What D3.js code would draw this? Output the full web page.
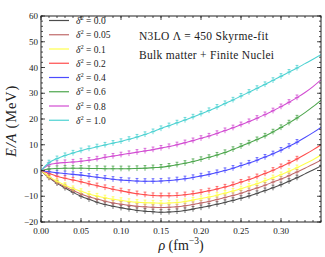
<!DOCTYPE html>
<html><head><meta charset="utf-8">
<script src="https://cdn.jsdelivr.net/npm/d3@7"></script>
<style>body{margin:0;background:#fff}svg{display:block}text{font-family:"Liberation Serif","DejaVu Serif",serif;fill:#222}</style>
</head><body>
<script>
// density grid (fm^-3), 0.00 .. 0.35 step 0.01
const rho = [0,0.01,0.02,0.03,0.04,0.05,0.06,0.07,0.08,0.09,0.10,0.11,0.12,0.13,0.14,0.15,0.16,0.17,0.18,0.19,0.20,0.21,0.22,0.23,0.24,0.25,0.26,0.27,0.28,0.29,0.30,0.31,0.32,0.33,0.34,0.35];
const labels = ["0.0","0.05","0.1","0.2","0.4","0.6","0.8","1.0"];
const colors = ["#4c4c4c","#c06a6a","#ffff4c","#ff4c4c","#4c4cff","#4ca64c","#d24cd2","#4cd2d2"];
const e00 = [0,-2.8,-5.0,-6.8,-8.5,-10.0,-11.2,-12.3,-13.2,-13.9,-14.5,-15.0,-15.5,-15.8,-16.0,-16.2,-16.1,-15.9,-15.5,-15.0,-14.4,-13.8,-13.1,-12.4,-11.6,-10.8,-9.9,-8.9,-7.8,-6.7,-5.5,-4.2,-2.8,-1.3,0.2,1.8];
const e005 = [0,-2.7,-4.7,-6.3,-7.8,-9.1,-10.2,-11.1,-11.9,-12.6,-13.1,-13.5,-13.9,-14.1,-14.3,-14.4,-14.3,-14.1,-13.7,-13.2,-12.6,-12.0,-11.3,-10.5,-9.7,-8.8,-7.8,-6.8,-5.7,-4.5,-3.3,-2.0,-0.6,0.9,2.4,4.0];
const e01 = [0,-2.4,-4.2,-5.7,-7.0,-8.1,-9.1,-9.9,-10.6,-11.2,-11.6,-12.0,-12.3,-12.5,-12.6,-12.7,-12.6,-12.4,-12.0,-11.5,-10.9,-10.3,-9.6,-8.8,-8.0,-7.1,-6.1,-5.1,-4.0,-2.8,-1.6,-0.3,1.1,2.6,4.2,6.0];
const e02 = [0,-1.2,-2.2,-3.0,-3.7,-4.4,-5.2,-5.9,-6.6,-7.3,-7.9,-8.5,-9.0,-9.4,-9.7,-9.8,-9.8,-9.7,-9.4,-9.0,-8.5,-7.9,-7.2,-6.4,-5.5,-4.5,-3.5,-2.4,-1.2,0.1,1.5,2.9,4.5,6.2,8.0,10.0];
const e04 = [0,-0.5,-0.9,-1.2,-1.5,-1.8,-2.2,-2.6,-3.0,-3.4,-3.7,-3.9,-4.1,-4.2,-4.2,-4.1,-3.9,-3.6,-3.2,-2.7,-2.1,-1.5,-0.8,0.0,0.9,1.9,2.9,4.0,5.2,6.5,7.9,9.4,11.0,12.8,14.7,16.8];
const e06 = [0,0.6,0.8,0.9,0.9,0.9,0.8,0.8,0.7,0.7,0.7,0.7,0.8,0.9,1.1,1.3,1.7,2.2,2.8,3.5,4.3,5.1,6.0,7.0,8.2,9.4,10.7,12.0,13.4,15.0,16.7,18.5,20.4,22.5,24.8,27.3];
const e08 = [0,2.2,2.8,3.1,3.3,3.6,4.0,4.5,5.1,5.6,6.1,6.6,7.1,7.6,8.1,8.7,9.3,10.0,10.8,11.6,12.5,13.4,14.4,15.5,16.6,17.8,19.0,20.3,21.7,23.2,24.8,26.5,28.3,30.3,32.6,35.2];
const e10 = [0,3.0,4.6,5.8,6.8,7.7,8.5,9.2,9.9,10.6,11.3,12.1,13.0,14.0,15.1,16.3,17.4,18.5,19.6,20.8,22.0,23.3,24.6,26.0,27.4,28.9,30.4,31.9,33.4,35.0,36.6,38.2,39.8,41.5,43.2,45.0];
const series = [e00,e005,e01,e02,e04,e06,e08,e10];
const xTicks = [0,0.05,0.10,0.15,0.20,0.25,0.30];
const yTicks = [-20,-10,0,10,20,30,40,50,60];
const markerMax = 0.32;

const W=325,H=257, L=41,R=321,T=16,B=222;
const svg=d3.select("body").append("svg").attr("width",W).attr("height",H);
const x=d3.scaleLinear().domain([0,0.35]).range([L,R]);
const y=d3.scaleLinear().domain([-20,60]).range([B,T]);

svg.append("clipPath").attr("id","c").append("rect").attr("x",L).attr("y",T).attr("width",R-L).attr("height",B-T);
const line=d3.line().x((d,i)=>x(rho[i])).y(d=>y(d)).curve(d3.curveMonotoneX);
const plot=svg.append("g").attr("clip-path","url(#c)");
series.forEach((s,k)=>{
  plot.append("path").attr("d",line(s)).attr("fill","none").attr("stroke",colors[k]).attr("stroke-width",1.05);
  const pts=s.map((v,i)=>[rho[i],v]).filter(p=>p[0]>0.005&&p[0]<=markerMax+1e-9);
  plot.selectAll(null).data(pts).enter().append("path")
    .attr("d",p=>{const cx=x(p[0]),cy=y(p[1]);return `M${cx-2.2},${cy}H${cx+2.2}M${cx},${cy-2.6}V${cy+2.6}M${cx-1.4},${cy-2.6}H${cx+1.4}`;})
    .attr("stroke",colors[k]).attr("stroke-width",0.8).attr("fill","none");
});

// axes: ticks inward on all sides
const xMinor=d3.range(0,0.351,0.01), yMinor=d3.range(-20,60.1,2);
const ax=svg.append("g").attr("stroke","#222").attr("stroke-width",0.8);
xMinor.forEach(v=>{const X=x(v);ax.append("line").attr("x1",X).attr("x2",X).attr("y1",B).attr("y2",B-2);ax.append("line").attr("x1",X).attr("x2",X).attr("y1",T).attr("y2",T+2);});
xTicks.forEach(v=>{const X=x(v);ax.append("line").attr("x1",X).attr("x2",X).attr("y1",B).attr("y2",B-4);ax.append("line").attr("x1",X).attr("x2",X).attr("y1",T).attr("y2",T+4);});
yMinor.forEach(v=>{const Y=y(v);ax.append("line").attr("y1",Y).attr("y2",Y).attr("x1",L).attr("x2",L+2);ax.append("line").attr("y1",Y).attr("y2",Y).attr("x1",R).attr("x2",R-2);});
yTicks.forEach(v=>{const Y=y(v);ax.append("line").attr("y1",Y).attr("y2",Y).attr("x1",L).attr("x2",L+4);ax.append("line").attr("y1",Y).attr("y2",Y).attr("x1",R).attr("x2",R-4);});
svg.append("rect").attr("x",L).attr("y",T).attr("width",R-L).attr("height",B-T).attr("fill","none").attr("stroke","#222").attr("stroke-width",1);

svg.selectAll(".xt").data(xTicks).enter().append("text").attr("x",d=>x(d)).attr("y",B+11.5).attr("text-anchor","middle").attr("font-size",9).text(d=>d3.format(".2f")(d));
svg.selectAll(".yt").data(yTicks).enter().append("text").attr("x",L-3).attr("y",d=>y(d)+3).attr("text-anchor","end").attr("font-size",9).text(d=>d3.format("d")(d));

// axis labels
const xl=svg.append("text").attr("x",181).attr("y",250).attr("text-anchor","middle").attr("font-size",14);
xl.append("tspan").attr("font-style","italic").text("ρ");
xl.append("tspan").text(" (fm");
xl.append("tspan").attr("font-size",9.5).attr("dy",-6).text("−3");
xl.append("tspan").attr("dy",6).text(")");
const yl=svg.append("text").attr("transform","translate(16,121) rotate(-90)").attr("text-anchor","middle").attr("font-size",14.5).attr("letter-spacing",0.8);
yl.append("tspan").attr("font-style","italic").text("E/A");
yl.append("tspan").text(" (MeV)");

// legend
labels.forEach((lab,k)=>{
  const Y=20.5+k*14.25;
  svg.append("line").attr("x1",49).attr("x2",69).attr("y1",Y).attr("y2",Y).attr("stroke",colors[k]).attr("stroke-width",1.2);
  const t=svg.append("text").attr("x",76).attr("y",Y+3.5).attr("font-size",9.5);
  t.append("tspan").attr("font-style","italic").text("δ");
  t.append("tspan").attr("font-size",6.5).attr("dy",-4).text("2");
  t.append("tspan").attr("dy",4).text(" = "+lab);
});

svg.append("text").attr("x",139).attr("y",40).attr("font-size",11.5).attr("letter-spacing",0.3).text("N3LO Λ = 450 Skyrme-fit");
svg.append("text").attr("x",139).attr("y",59).attr("font-size",11.5).attr("letter-spacing",0.3).text("Bulk matter + Finite Nuclei");
</script>
</body></html>
